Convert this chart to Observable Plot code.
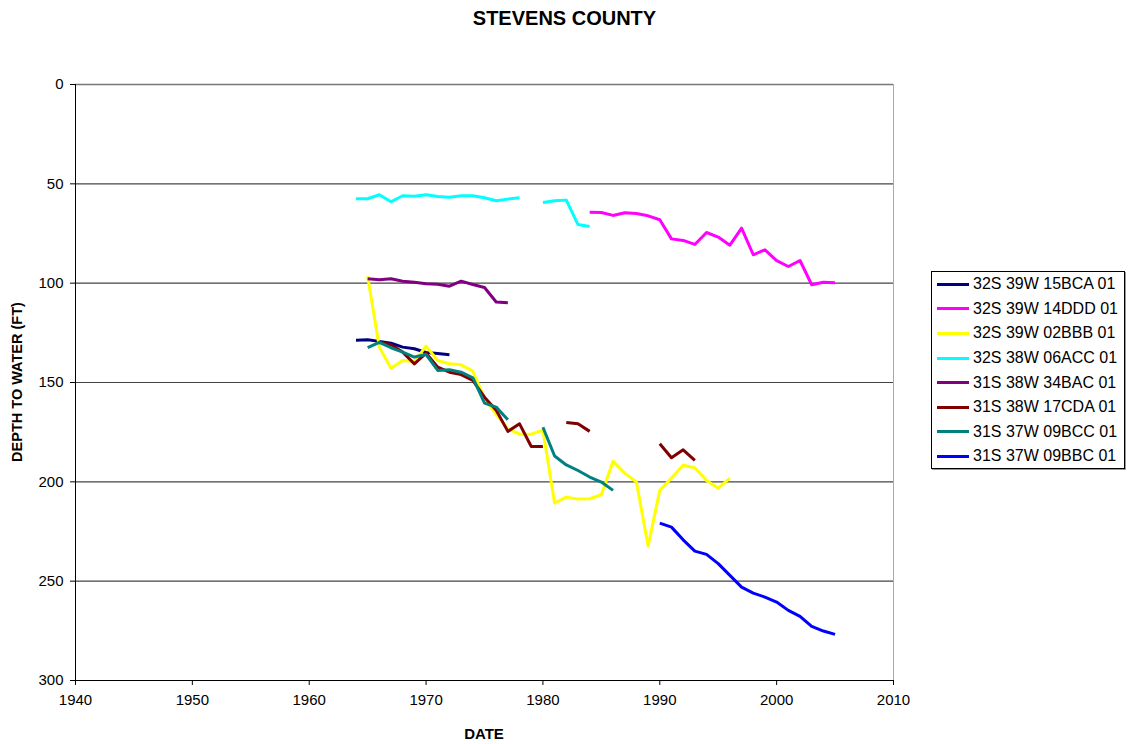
<!DOCTYPE html>
<html>
<head>
<meta charset="utf-8">
<script src="https://cdn.jsdelivr.net/npm/d3@7"></script>
<script src="https://cdn.jsdelivr.net/npm/@observablehq/plot@0.6"></script>
<style>
  body { margin: 0; background: #fff; font-family: "Liberation Sans", Arial, sans-serif; }
  #wrap { position: relative; width: 1129px; height: 744px; overflow: hidden; }
  #title { position: absolute; top: 7px; left: 0; width: 1129px; text-align: center; font-weight: bold; font-size: 20px; }
  #ylab { position: absolute; left: 17px; top: 382px; transform: translate(-50%, -50%) rotate(-90deg); font-weight: bold; font-size: 14.5px; white-space: nowrap; }
  #xlab { position: absolute; left: 484px; top: 733px; transform: translate(-50%, -50%); font-weight: bold; font-size: 15px; }
  #legend { position: absolute; left: 931px; top: 271px; width: 194px; height: 198px; border: 1px solid #000; box-sizing: border-box; background: #fff; box-shadow: 1px 1px 0 #999; padding-top: 0px; }
  .item { height: 24.6px; display: flex; align-items: center; font-size: 16px; white-space: nowrap; }
  .sw { width: 32px; height: 3px; margin-left: 5px; margin-right: 4px; }
</style>
</head>
<body>
<div id="wrap">
  <div id="title">STEVENS COUNTY</div>
  <div id="chart"></div>
  <div id="ylab">DEPTH TO WATER (FT)</div>
  <div id="xlab">DATE</div>
  <div id="legend"></div>
</div>
<script>
// Series names (legend order) and colours
const seriesNames = ["32S 39W 15BCA 01", "32S 39W 14DDD 01", "32S 39W 02BBB 01", "32S 38W 06ACC 01",
                     "31S 38W 34BAC 01", "31S 38W 17CDA 01", "31S 37W 09BCC 01", "31S 37W 09BBC 01"];
const seriesColors = ["#000080", "#FF00FF", "#FFFF00", "#00FFFF", "#800080", "#800000", "#008080", "#0000FF"];

// Years and depth to water (ft); null = no measurement (gap)
const years15BCA = [1964, 1965, 1966, 1967, 1968, 1969, 1970, 1971, 1972];
const depth15BCA = [128.7, 128.5, 129.3, 130.2, 132.2, 133, 134.9, 135.4, 136];

const years14DDD = [1984, 1985, 1986, 1987, 1988, 1989, 1990, 1991, 1992, 1993, 1994, 1995, 1996, 1997, 1998, 1999, 2000, 2001, 2002, 2003, 2004, 2005];
const depth14DDD = [64.3, 64.4, 65.9, 64.6, 64.9, 66.1, 68.1, 77.7, 78.5, 80.5, 74.5, 76.8, 80.9, 72.3, 85.7, 83.2, 88.7, 91.6, 88.6, 100.8, 99.5, 99.8];

const years02BBB = [1965, 1966, 1967, 1968, 1969, 1970, 1971, 1972, 1973, 1974, 1975, 1976, 1977, 1978, 1979, 1980, 1981, 1982, 1983, 1984, 1985, 1986, 1987, 1988, 1989, 1990, 1991, 1992, 1993, 1994, 1995, 1996];
const depth02BBB = [96.5, 132.2, 142.8, 138.9, 139.4, 131.7, 138.9, 140.6, 141.1, 144.3, 158, 166, 173.3, 176, 176, 174, 210.7, 207.7, 208.7, 208.5, 206.5, 189.6, 195.6, 200.1, 232.3, 204.3, 198.1, 191.7, 192.9, 199.3, 203.2, 198.1];

const years06ACC = [1964, 1965, 1966, 1967, 1968, 1969, 1970, 1971, 1972, 1973, 1974, 1975, 1976, 1977, 1978, 1979, 1980, 1981, 1982, 1983, 1984];
const depth06ACC = [57.5, 57.5, 55.5, 59, 56, 56.2, 55.5, 56.4, 56.7, 56, 56, 57, 58.5, 57.7, 57, null, 59.4, 58.5, 58.2, 70.5, 71.5];

const years34BAC = [1965, 1966, 1967, 1968, 1969, 1970, 1971, 1972, 1973, 1974, 1975, 1976, 1977];
const depth34BAC = [97.8, 98.3, 97.8, 99, 99.5, 100.3, 100.5, 101.5, 99, 100.7, 102.2, 109.5, 109.9];

const years17CDA = [1966, 1967, 1968, 1969, 1970, 1971, 1972, 1973, 1974, 1975, 1976, 1977, 1978, 1979, 1980, 1981, 1982, 1983, 1984, 1985, 1990, 1991, 1992, 1993];
const depth17CDA = [129.7, 131, 134.7, 140.6, 135.2, 142.3, 144.8, 146, 149, 157.4, 164, 174.6, 170.8, 182.2, 182.2, null, 170.1, 170.8, 174.6, null, 180.8, 187.9, 183.9, 189.2];

const years09BCC = [1965, 1966, 1967, 1968, 1969, 1970, 1971, 1972, 1973, 1974, 1975, 1976, 1977, 1978, 1980, 1981, 1982, 1983, 1984, 1985, 1986];
const depth09BCC = [132.5, 129.8, 132.5, 134.7, 137.2, 135.9, 143.9, 143.6, 144.8, 147.6, 160.4, 162.4, 168.8, null, 172.5, 187, 191.5, 194.3, 197.6, 200.1, 204.3];

const years09BBC = [1990, 1991, 1992, 1993, 1994, 1995, 1996, 1997, 1998, 1999, 2000, 2001, 2002, 2003, 2004, 2005];
const depth09BBC = [220.8, 222.8, 229.2, 234.9, 236.5, 241.2, 247.1, 253, 256, 258, 260.5, 264.7, 267.7, 272.8, 275.1, 276.8];

// Axis ticks
const xTicks = [1940, 1950, 1960, 1970, 1980, 1990, 2000, 2010];
const yTicks = [0, 50, 100, 150, 200, 250, 300];

const seriesYears = [years15BCA, years14DDD, years02BBB, years06ACC, years34BAC, years17CDA, years09BCC, years09BBC];
const seriesDepths = [depth15BCA, depth14DDD, depth02BBB, depth06ACC, depth34BAC, depth17CDA, depth09BCC, depth09BBC];

const tables = seriesNames.map((name, i) =>
  seriesYears[i].map((yr, j) => ({ series: name, year: yr, depth: seriesDepths[i][j] }))
);

const chart = Plot.plot({
  width: 1129,
  height: 744,
  marginLeft: 75,
  marginRight: 236,
  marginTop: 84,
  marginBottom: 64,
  style: { fontFamily: "'Liberation Sans', Arial, sans-serif", fontSize: "15px", color: "#000", background: "transparent", overflow: "visible" },
  x: { domain: [1940, 2010], label: null },
  y: { domain: [0, 300], reverse: true, label: null },
  color: { domain: seriesNames, range: seriesColors },
  marks: [
    Plot.ruleY(yTicks.filter(v => v > 0 && v < 300), { stroke: "#444", strokeWidth: 1.2 }),
    Plot.ruleY([0], { stroke: "#777", strokeWidth: 1.5 }),
    Plot.ruleX([2010], { stroke: "#aaa", strokeWidth: 1 }),
    ...tables.map(t => Plot.line(t, { x: "year", y: "depth", stroke: "series", strokeWidth: 3, strokeLinejoin: "round", strokeLinecap: "butt" })),
    Plot.ruleX([1940], { stroke: "#000", strokeWidth: 1 }),
    Plot.ruleY([300], { stroke: "#000", strokeWidth: 1 }),
    Plot.axisX({ ticks: xTicks, tickFormat: d => String(d), tickSize: 5, tickPadding: 9, label: null, fontSize: 15 }),
    Plot.axisY({ ticks: yTicks, tickSize: 5, tickPadding: 7, label: null, fontSize: 15 })
  ]
});
document.getElementById("chart").appendChild(chart);

const legend = document.getElementById("legend");
seriesNames.forEach((name, i) => {
  const row = document.createElement("div");
  row.className = "item";
  const sw = document.createElement("span");
  sw.className = "sw";
  sw.style.background = seriesColors[i];
  const tx = document.createElement("span");
  tx.textContent = name;
  row.appendChild(sw);
  row.appendChild(tx);
  legend.appendChild(row);
});
</script>
</body>
</html>
